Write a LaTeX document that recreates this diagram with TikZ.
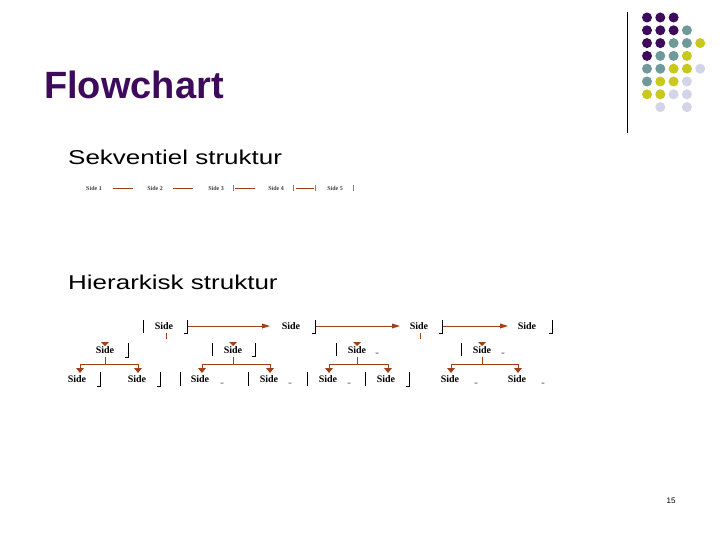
\documentclass[tikz,border=0pt]{standalone}
\usepackage{fontspec}
\setmainfont{Liberation Sans}
\newfontfamily\seriff{Liberation Serif}
\definecolor{P}{HTML}{3D0A5C}
\definecolor{T}{HTML}{6E9A9A}
\definecolor{Y}{HTML}{C8C81E}
\definecolor{L}{HTML}{D4D4E8}
\definecolor{W}{HTML}{FFFFFF}
\definecolor{ar}{HTML}{A0401A}
\begin{document}
\begin{tikzpicture}[x=1pt,y=-1pt,
  side/.style={font=\seriff\bfseries\fontsize{10}{10}\selectfont,inner sep=0pt,anchor=center},
  br/.style={line width=0.6pt},
  con/.style={draw=ar,line width=1pt},
  seq/.style={font=\seriff\bfseries\fontsize{6}{6}\selectfont,text=black!75,inner sep=0pt}]
\useasboundingbox (0,0) rectangle (720,540);
\fill[white] (0,0) rectangle (720,540);
% decoration
\draw[line width=0.8pt] (627,12) -- (627,133);
\foreach \r/\row in {0/{P,P,P},1/{P,P,P,T},2/{P,P,T,T,Y},3/{P,T,T,Y},4/{T,T,Y,Y,L},5/{T,Y,Y,L},6/{Y,Y,L,L},7/{W,L,W,L}}{
  \foreach \c [count=\i from 0] in \row {
    \fill[\c] (647+13.3*\i,17.5+12.8*\r) circle (5pt);
  }}
\node[anchor=base west,text=P,font=\bfseries\fontsize{38}{38}\selectfont,inner sep=0pt] (title) at (44,99) {Flowchart};
\node[anchor=base west,font=\fontsize{20}{20}\selectfont,inner sep=0pt] (seqt) at (68,165) {\scalebox{1.3}[1]{Sekventiel struktur}};
\node[anchor=base west,font=\fontsize{20}{20}\selectfont,inner sep=0pt] (hiet) at (68,289) {\scalebox{1.3}[1]{Hierarkisk struktur}};
\node[anchor=base,font=\fontsize{8}{8}\selectfont,inner sep=0pt] (pg) at (671,503) {15};
% sequential
\node[seq] (s1) at (94,188) {Side 1};
\node[seq] (s2) at (155,188) {Side 2};
\node[seq] (s3) at (216,188) {Side 3};
\node[seq] (s4) at (276,188) {Side 4};
\node[seq] (s5) at (335,188) {Side 5};
\draw[ar,line width=0.6pt] (113,188)--(133,188) (173,188)--(193,188) (235,188)--(255,188) (296,188)--(314,188);
\draw[gray,line width=0.5pt] (233,185)--(233,191) (293,185)--(293,191) (315,185)--(315,191) (353,185)--(353,191);
% top level
\node[side] (t1) at (164,326) {Side};
\node[side] (t2) at (291,326) {Side};
\node[side] (t3) at (419,326) {Side};
\node[side] (t4) at (527,326) {Side};
\draw[br] (143,320)--(143,333) (187,320)--(187,333)--(184,333);
\draw[br] (315,320)--(315,333)--(312,333);
\draw[br] (442,320)--(442,333)--(439,333);
\draw[br] (552,320)--(552,333)--(549,333);
\draw[con] (188,326)--(262,326); \fill[ar] (270,326)--(262,323.5)--(262,328.5)--cycle;
\draw[con] (316,326)--(392,326); \fill[ar] (400,326)--(392,323.5)--(392,328.5)--cycle;
\draw[con] (443,326)--(500,326); \fill[ar] (508,326)--(500,323.5)--(500,328.5)--cycle;
\draw[con] (166,333)--(166,339);
\draw[con] (420,333)--(420,339);
% level 2
\foreach \n/\x in {a/105,b/233,c/357,d/482}{
  \node[side] (m\n) at (\x,350) {Side};
  \fill[ar] (\x-4,342)--(\x+4,342)--(\x,346)--cycle;
  \draw[con] (\x,357)--(\x,364);
}
\draw[br] (128,343)--(128,357)--(125,357);
\draw[br] (212,343)--(212,356) (255,343)--(255,356)--(252,356);
\draw[br] (336,343)--(336,356);
\draw[br] (461,343)--(461,356);
\node[font=\fontsize{3}{3}\selectfont,inner sep=0pt] (xc) at (377,354) {xx};
\node[font=\fontsize{3}{3}\selectfont,inner sep=0pt] (xd) at (503,354) {xx};
% level 3
\foreach \p/\a/\b in {105/80/138,233/202/270,357/329/388,482/451/518}{
  \draw[con] (\a,364)--(\b,364);
  \draw[con] (\a,364)--(\a,368) (\b,364)--(\b,368);
  \fill[ar] (\a-4,368)--(\a+4,368)--(\a,373)--cycle;
  \fill[ar] (\b-4,368)--(\b+4,368)--(\b,373)--cycle;
}
\foreach \n/\x in {1/77,2/137,3/200,4/269,5/328,6/386,7/450,8/517}{
  \node[side] (b\n) at (\x,379) {Side};
}
\draw[br] (100,372)--(100,386)--(97,386);
\draw[br] (160,372)--(160,386)--(157,386);
\draw[br] (180,372)--(180,386) (248,372)--(248,386) (307,372)--(307,386) (365,372)--(365,386) (409,372)--(409,386)--(406,386);
\foreach \x in {222,290,349,476,543}{\node[font=\fontsize{3}{3}\selectfont,inner sep=0pt] at (\x,384) {xx};}
\end{tikzpicture}
\end{document}
